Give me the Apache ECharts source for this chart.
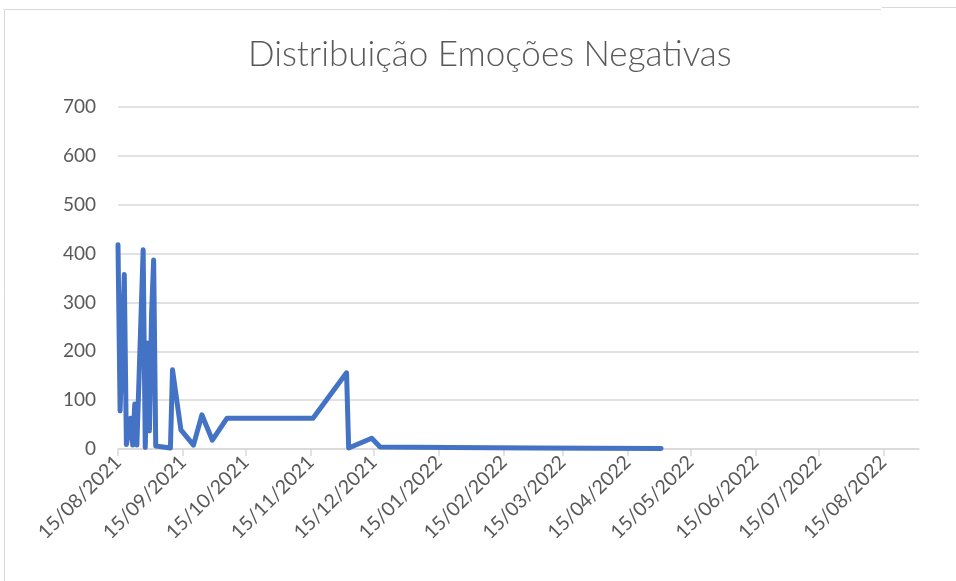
<!DOCTYPE html>
<html>
<head>
<meta charset="utf-8">
<script src="https://cdn.jsdelivr.net/npm/echarts@6/dist/echarts.min.js"></script>
<style>
  html, body { margin: 0; padding: 0; background: #fff; }
  #main { width: 956px; height: 581px; }
</style>
</head>
<body>
<div id="main"></div>
<script>
// datas (dd/mm/yyyy -> yyyy-mm-dd)
var dates = ['2021-08-15','2021-08-16','2021-08-18','2021-08-19','2021-08-21','2021-08-22',
  '2021-08-23','2021-08-24','2021-08-27','2021-08-28','2021-08-29','2021-08-30','2021-08-31',
  '2021-09-01','2021-09-02','2021-09-09','2021-09-10','2021-09-14','2021-09-20','2021-09-24',
  '2021-09-29','2021-10-06','2021-11-16','2021-12-02','2021-12-03','2021-12-14','2021-12-18',
  '2022-01-20','2022-03-01','2022-05-01'];
var values = [418,78,357,9,63,8,92,8,408,3,217,37,275,387,6,2,162,39,8,70,18,63,63,156,2,22,4,3,2,1];
// marcas do eixo x: dia 15 de cada mês
var tickDates = ['2021-08-15','2021-09-15','2021-10-15','2021-11-15','2021-12-15','2022-01-15',
  '2022-02-15','2022-03-15','2022-04-15','2022-05-15','2022-06-15','2022-07-15','2022-08-15'];
var axisStart = '2021-08-15';
var axisEnd = '2022-09-01';

function toTime(s){
  var p = s.split('-');
  return new Date(+p[0], +p[1]-1, +p[2]).getTime();
}
function pad(n){ return n < 10 ? '0'+n : ''+n; }
function fmt(t){
  var d = new Date(t);
  return pad(d.getDate())+'/'+pad(d.getMonth()+1)+'/'+d.getFullYear();
}

var seriesData = [];
for(var i=0;i<dates.length;i++){
  seriesData.push([toTime(dates[i]), values[i]]);
}
var ticks = tickDates.map(toTime);

var font = 'Lato';
var myChart = echarts.init(document.getElementById('main'));
var option = {
  backgroundColor: '#fff',
  animation: false,
  title: {
    text: 'Distribuição Emoções Negativas',
    left: 243,
    top: 32,
    textStyle: { fontFamily: font, fontWeight: 300, fontSize: 35, color: '#595959' }
  },
  graphic: [
    { type: 'polyline', shape: { points: [[4.5, 600], [4.5, 9.5], [881, 9.5]] },
      style: { stroke: '#d9d9d9', lineWidth: 1, fill: null }, silent: true },
    { type: 'line', shape: { x1: 882, y1: 7.5, x2: 956, y2: 7.5 },
      style: { stroke: '#d9d9d9', lineWidth: 1 }, silent: true }
  ],
  grid: { left: 118, right: 37, top: 107, bottom: 132 },
  xAxis: {
    type: 'value',
    min: toTime(axisStart),
    max: toTime(axisEnd),
    axisLine: { show: true, lineStyle: { color: '#d9d9d9', width: 1.5 } },
    axisTick: { show: true, customValues: ticks, length: 7, lineStyle: { color: '#d9d9d9', width: 1.5 } },
    axisLabel: {
      customValues: ticks,
      rotate: 45,
      margin: 10,
      fontFamily: font,
      fontSize: 19.5,
      color: '#595959',
      formatter: function(v){ return fmt(v); }
    },
    splitLine: { show: false }
  },
  yAxis: {
    type: 'value',
    min: 0,
    max: 700,
    interval: 100,
    axisLine: { show: false },
    axisTick: { show: false },
    axisLabel: { margin: 22, fontFamily: font, fontSize: 19, color: '#595959' },
    splitLine: { lineStyle: { color: '#d9d9d9', width: 1.5 } }
  },
  series: [{
    type: 'line',
    data: seriesData,
    showSymbol: false,
    symbol: 'none',
    lineStyle: { color: '#4472C4', width: 5, join: 'round', cap: 'round' },
    itemStyle: { color: '#4472C4' }
  }]
};
myChart.setOption(option, true);
</script>
</body>
</html>
